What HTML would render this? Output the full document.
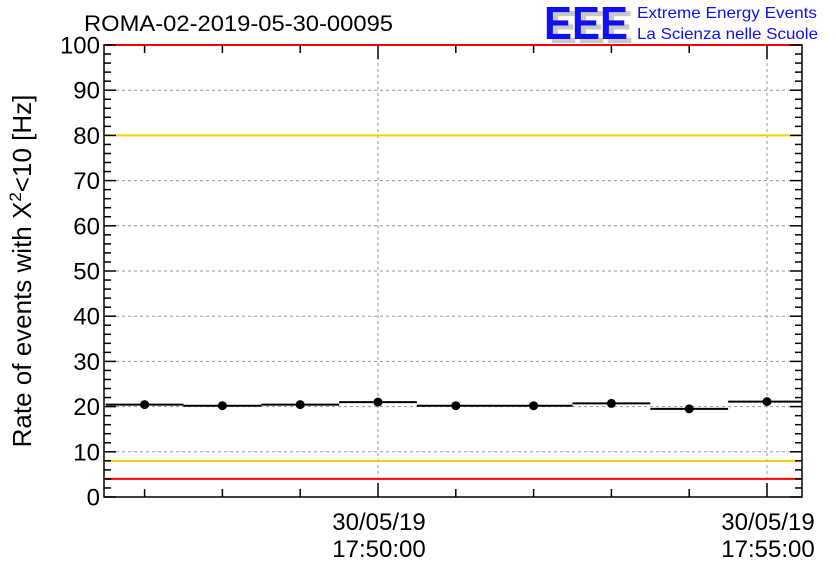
<!DOCTYPE html>
<html><head><meta charset="utf-8"><style>
body{margin:0;background:#fff;}
svg{display:block;font-family:"Liberation Sans",sans-serif;}
</style></head><body>
<svg id="chart" width="836" height="572" viewBox="0 0 836 572">
<rect width="836" height="572" fill="#fff"/>
<text x="84" y="31" font-size="22" textLength="309" lengthAdjust="spacingAndGlyphs">ROMA-02-2019-05-30-00095</text>
<g>
<text x="549" y="43" font-size="46" font-weight="bold" fill="#c8c8c8" textLength="84" lengthAdjust="spacingAndGlyphs">EEE</text>
<text x="544" y="39" font-size="46" font-weight="bold" fill="#1010f0" textLength="84" lengthAdjust="spacingAndGlyphs">EEE</text>
<text x="637" y="18" font-size="16" fill="#1010f0" textLength="180" lengthAdjust="spacingAndGlyphs">Extreme Energy Events</text>
<text x="637" y="39" font-size="16" fill="#1010f0" textLength="181" lengthAdjust="spacingAndGlyphs">La Scienza nelle Scuole</text>
</g>
<g id="grid"></g>
<g id="series"></g>
<rect x="104" y="45" width="698" height="452" fill="none" stroke="#000" stroke-width="1.5"/>
<g id="refs"></g>
<g id="axes"></g>
<text transform="translate(31,271) rotate(-90)" text-anchor="middle" font-size="26">Rate of events with X<tspan dy="-10" font-size="17">2</tspan><tspan dy="10">&lt;10 [Hz]</tspan></text>
</svg>
<script>
const times = [-180,-120,-60,0,60,120,180,240,300]; // seconds relative to 17:50:00
const rates = [20.45,20.2,20.45,21.0,20.2,20.2,20.7,19.5,21.1];
const refLines = [100,80,8,4];
const refColors = ['#ff0000','#ffcc00','#ffcc00','#ff0000'];
const yTicks = [0,10,20,30,40,50,60,70,80,90,100];
const xMajor = [0,300];
const xMajorLabels = [['30/05/19','17:50:00'],['30/05/19','17:55:00']];
const binWidth = 60;

const L=104,R=802,T=45,B=497;
const sx=t=>378+t*(389/300);
const sy=v=>B-(v/100)*(B-T);
const NS='http://www.w3.org/2000/svg';
function mk(tag,attrs,parent){const e=document.createElementNS(NS,tag);for(const k in attrs)e.setAttribute(k,attrs[k]);parent.appendChild(e);return e;}
const grid=document.getElementById('grid'),axes=document.getElementById('axes'),refs=document.getElementById('refs'),series=document.getElementById('series');
yTicks.forEach(v=>{if(v>0&&v<100){const g=mk('line',{x1:L,x2:R,y1:sy(v),y2:sy(v),stroke:'#999','stroke-dasharray':'3,3','stroke-width':1},grid);

}
const t=mk('text',{x:100,y:sy(v)+8.5,'text-anchor':'end','font-size':24},axes);t.textContent=v;

});
xMajor.forEach(t=>{const g=mk('line',{x1:sx(t),x2:sx(t),y1:T,y2:B,stroke:'#999','stroke-dasharray':'3,3','stroke-width':1},grid);

});
for(let v=0;v<=100;v+=2){const len=(v%10===0)?12:7;
mk('line',{x1:L,x2:L+len,y1:sy(v),y2:sy(v),stroke:'#000','stroke-width':1.5},axes);
mk('line',{x1:R-len,x2:R,y1:sy(v),y2:sy(v),stroke:'#000','stroke-width':1.5},axes);}
for(let t=-180;t<=300;t+=60){const len=xMajor.includes(t)?14:8;
mk('line',{x1:sx(t),x2:sx(t),y1:B-len,y2:B,stroke:'#000','stroke-width':1.5},axes);
mk('line',{x1:sx(t),x2:sx(t),y1:T,y2:T+len,stroke:'#000','stroke-width':1.5},axes);}
xMajor.forEach((t,i)=>{xMajorLabels[i].forEach((s,j)=>{const e=mk('text',{x:sx(t)+1,y:530+j*27,'text-anchor':'middle','font-size':24},axes);e.textContent=s;

});});
refLines.forEach((v,i)=>{const e=mk('line',{x1:L,x2:R,y1:sy(v),y2:sy(v),stroke:refColors[i],'stroke-width':2},refs);

});
times.forEach((t,i)=>{const x1=Math.max(L,sx(t-binWidth/2)),x2=Math.min(R,sx(t+binWidth/2));
const b=mk('line',{x1:x1,x2:x2,y1:sy(rates[i]),y2:sy(rates[i]),stroke:'#000','stroke-width':2},series);


const c=mk('circle',{cx:sx(t),cy:sy(rates[i]),r:4.5,fill:'#000'},series);

});
</script>
</body></html>
